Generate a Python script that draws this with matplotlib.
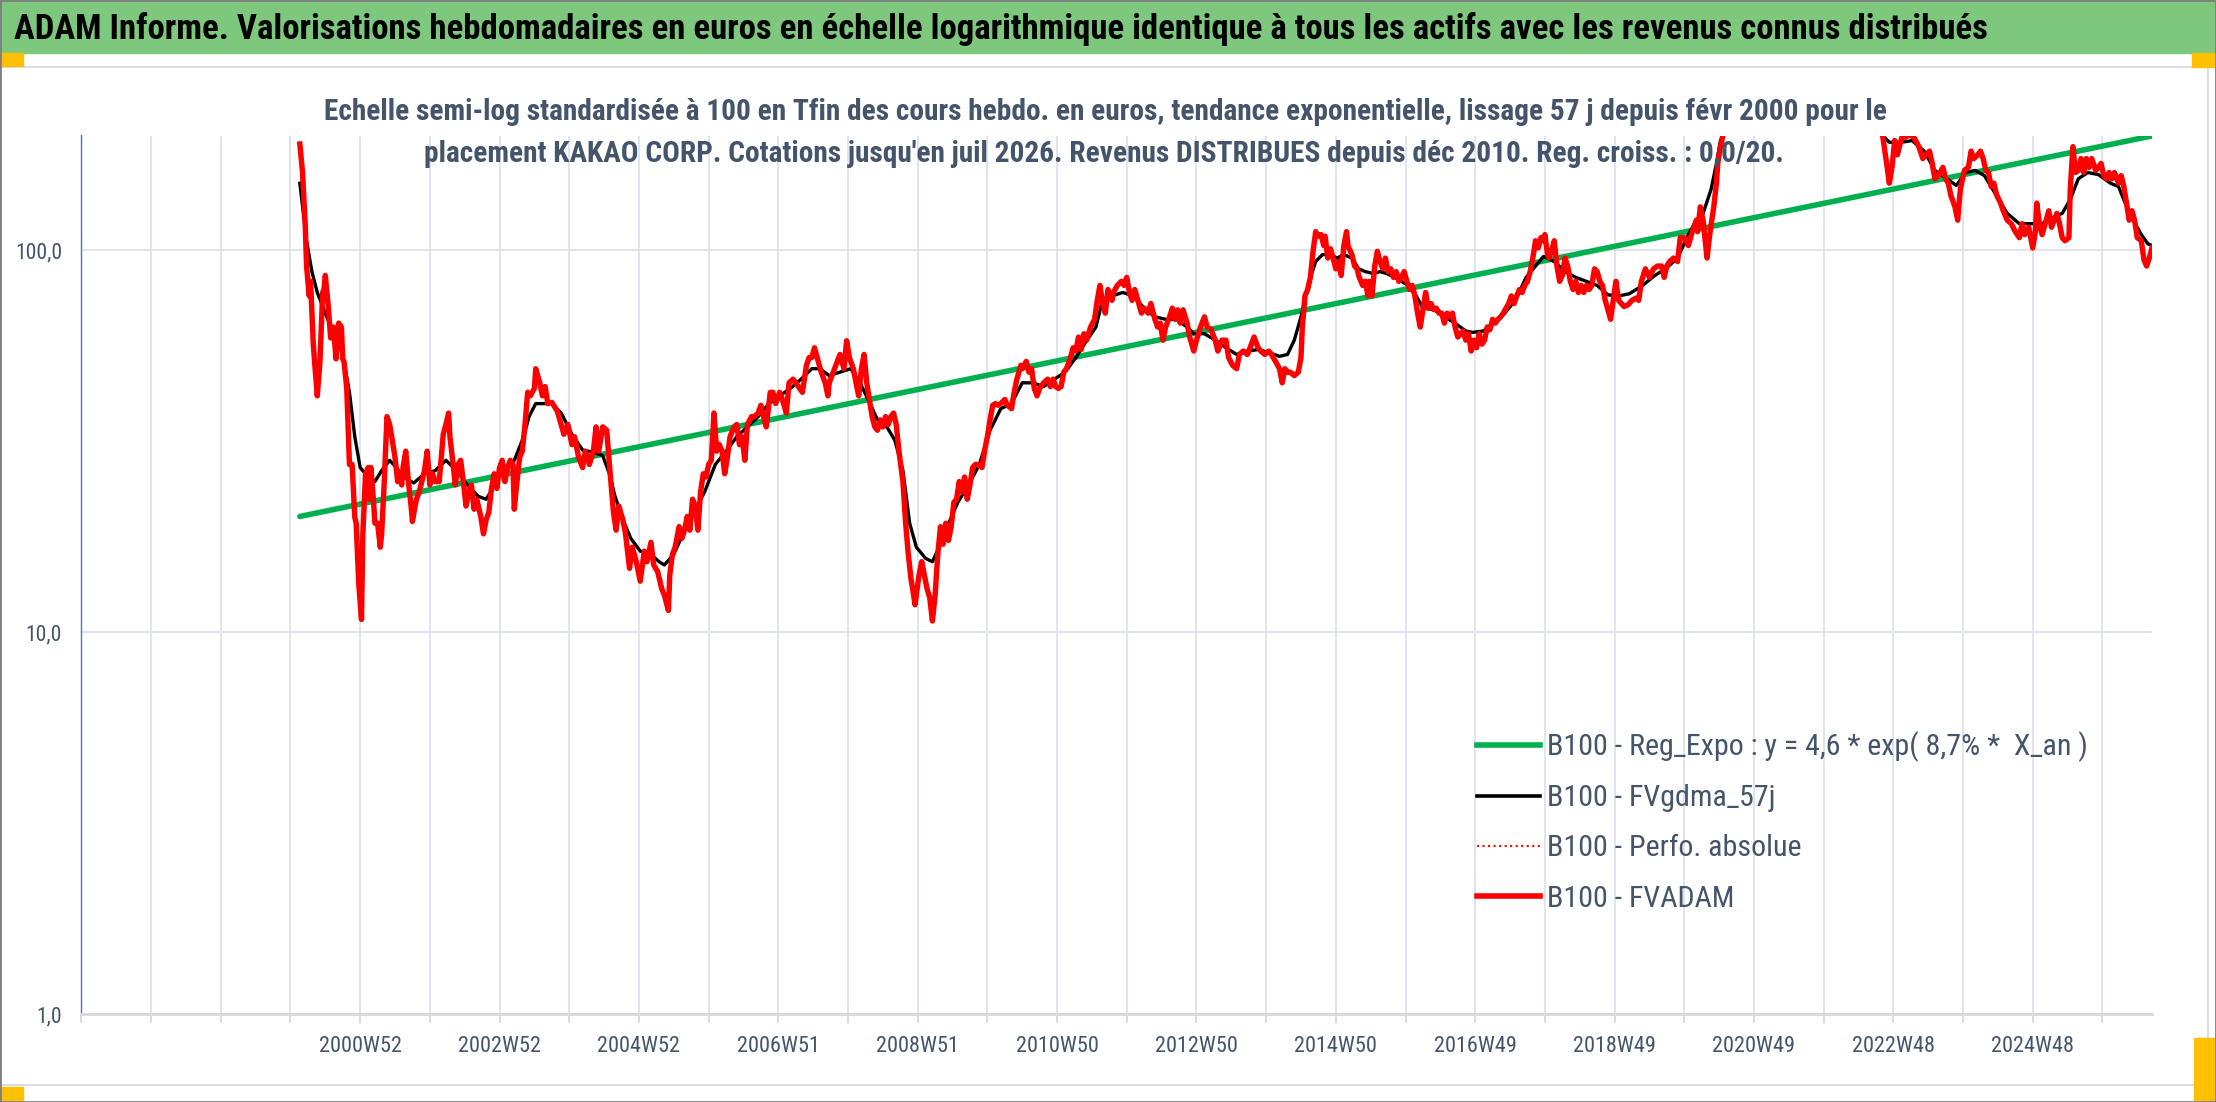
import numpy as np
import matplotlib
matplotlib.use('Agg')
import matplotlib.pyplot as plt
from matplotlib import font_manager
from matplotlib.lines import Line2D
from matplotlib.patches import Rectangle

# police etroite type Calibri si dispo
noms = {f.name for f in font_manager.fontManager.ttflist}
police = next((p for p in ['Liberation Sans Narrow', 'Roboto Condensed',
                           'Open Sans Condensed', 'Lato'] if p in noms), 'DejaVu Sans')
plt.rcParams['font.family'] = [police, 'DejaVu Sans']

titre = ("ADAM Informe. Valorisations hebdomadaires en euros en échelle logarithmique "
         "identique à tous les actifs avec les revenus connus distribués")
sous_titre_1 = ("Echelle semi-log standardisée à 100 en Tfin des cours hebdo. en euros, "
                "tendance exponentielle, lissage 57 j depuis févr 2000 pour le")
sous_titre_2 = ("placement KAKAO CORP. Cotations jusqu'en juil 2026. Revenus DISTRIBUES "
                "depuis déc 2010. Reg. croiss. : 0,0/20.")

etiquettes_x = ['2000W52', '2002W52', '2004W52', '2006W51', '2008W51', '2010W50', '2012W50',
                '2014W50', '2016W49', '2018W49', '2020W49', '2022W48', '2024W48']
etiquettes_y = ['1,0', '10,0', '100,0']
valeurs_y = [1, 10, 100]

noms_series = ['B100 - Reg_Expo : y = 4,6 * exp( 8,7% *  X_an )', 'B100 - FVgdma_57j',
               'B100 - Perfo. absolue', 'B100 - FVADAM']

# index de semaine (0 = debut de l'axe) et valeurs base 100
sem_fvadam = [163, 165, 167, 168, 170, 171, 173, 174, 176, 178, 180, 181,
              182, 184, 186, 188, 190, 192, 194, 195, 196, 198, 200, 202,
              204, 205, 207, 209, 210, 212, 214, 215, 216, 218, 219, 221,
              223, 224, 226, 228, 230, 232, 234, 236, 237, 239, 240, 242,
              244, 246, 247, 249, 250, 252, 254, 256, 258, 260, 262, 264,
              267, 270, 272, 274, 275, 277, 279, 281, 283, 285, 287, 289,
              291, 293, 295, 298, 300, 302, 304, 306, 308, 310, 312, 314,
              316, 318, 320, 322, 323, 325, 327, 329, 331, 333, 335, 338,
              339, 342, 344, 346, 348, 351, 355, 358, 360, 363, 366, 368,
              371, 374, 376, 379, 382, 384, 386, 389, 392, 394, 397, 399,
              401, 404, 406, 409, 411, 414, 417, 420, 422, 425, 427, 430,
              433, 435, 438, 439, 441, 443, 446, 448, 450, 452, 454, 456,
              458, 460, 462, 464, 466, 468, 470, 472, 474, 476, 478, 480,
              482, 484, 487, 489, 491, 493, 495, 497, 500, 502, 505, 507,
              509, 511, 514, 516, 518, 521, 523, 526, 528, 531, 533, 535,
              538, 541, 543, 545, 547, 549, 552, 555, 557, 558, 561, 564,
              566, 569, 571, 573, 576, 578, 580, 582, 584, 586, 588, 590,
              592, 594, 596, 598, 600, 602, 604, 606, 608, 610, 613, 615,
              617, 619, 621, 622, 625, 627, 629, 631, 633, 635, 637, 639,
              641, 643, 645, 647, 649, 651, 653, 655, 657, 659, 661, 663,
              665, 667, 669, 672, 674, 676, 678, 680, 682, 684, 686, 689,
              691, 694, 696, 698, 701, 702, 705, 707, 709, 711, 713, 715,
              718, 721, 723, 725, 727, 729, 731, 733, 735, 738, 740, 742,
              744, 746, 748, 750, 753, 756, 758, 760, 762, 764, 766, 769,
              770, 773, 776, 778, 780, 782, 784, 786, 789, 791, 793, 796,
              798, 801, 803, 805, 807, 809, 812, 814, 816, 818, 820, 822,
              825, 827, 830, 832, 835, 838, 840, 843, 846, 848, 851, 854,
              856, 859, 862, 864, 867, 870, 872, 875, 878, 880, 883, 886,
              888, 891, 894, 896, 898, 900, 902, 905, 908, 910, 911, 913,
              915, 917, 919, 921, 923, 925, 927, 928, 930, 932, 934, 936,
              938, 940, 942, 944, 945, 948, 950, 952, 953, 956, 958, 960,
              961, 963, 965, 967, 969, 971, 973, 975, 977, 979, 981, 983,
              985, 987, 989, 991, 993, 995, 997, 999, 1001, 1003, 1005, 1007,
              1009, 1011, 1013, 1015, 1017, 1019, 1021, 1023, 1025, 1027, 1029, 1031,
              1033, 1035, 1037, 1039, 1041, 1043, 1045, 1047, 1049, 1051, 1053, 1055,
              1057, 1059, 1061, 1063, 1065, 1067, 1069, 1071, 1073, 1075, 1077, 1079,
              1081, 1083, 1085, 1087, 1089, 1091, 1092, 1094, 1095, 1097, 1099, 1101,
              1103, 1105, 1107, 1109, 1111, 1113, 1115, 1117, 1119, 1121, 1123, 1125,
              1127, 1129, 1131, 1133, 1135, 1137, 1139, 1141, 1143, 1145, 1147, 1149,
              1151, 1154, 1157, 1160, 1162, 1164, 1167, 1170, 1173, 1176, 1179, 1181,
              1183, 1185, 1188, 1191, 1193, 1196, 1199, 1202, 1205, 1206, 1208, 1210,
              1213, 1215, 1218, 1220, 1221, 1223, 1225, 1230, 1240, 1255, 1270, 1290,
              1310, 1325, 1337, 1342, 1344, 1347, 1349, 1351, 1353, 1355, 1357, 1359,
              1361, 1363, 1365, 1368, 1371, 1374, 1376, 1379, 1381, 1383, 1386, 1389,
              1391, 1393, 1395, 1398, 1400, 1402, 1405, 1408, 1410, 1412, 1415, 1417,
              1419, 1421, 1423, 1425, 1427, 1429, 1432, 1434, 1437, 1440, 1443, 1446,
              1448, 1450, 1453, 1456, 1458, 1459, 1461, 1463, 1466, 1468, 1470, 1472,
              1474, 1476, 1478, 1480, 1483, 1484, 1486, 1488, 1490, 1492, 1494, 1496,
              1498, 1500, 1503, 1505, 1507, 1509, 1511, 1513, 1515, 1517, 1520, 1522,
              1524, 1526, 1528, 1530, 1532, 1534, 1537, 1539, 1541, 1543, 1545]
fvadam = [190, 160, 117, 91, 76, 83, 57, 51, 41.6, 51, 77.6, 79,
          86, 72.6, 59, 63, 52, 64.5, 63, 52, 51, 43.5, 27.5, 27.5,
          20, 19.3, 13.3, 10.8, 18, 26, 27, 22.3, 27, 22, 19.3, 19.3,
          16.7, 18, 24.8, 36.7, 35, 31.8, 28.7, 24.8, 26, 24.3, 27, 29.8,
          24.8, 21.4, 19.5, 21.4, 22.3, 23.3, 24.8, 26.5, 29.8, 24.3, 26, 24.8,
          24.8, 33, 35, 37.5, 32.5, 28.2, 24.3, 27.5, 28.2, 24.8, 21.4, 23.3,
          24.3, 21, 22.3, 20.1, 18.1, 19.7, 20.6, 23.8, 26, 23.8, 27, 28.2,
          24.8, 27, 28.2, 27.5, 21, 24.8, 28.7, 29.8, 35, 42.5, 41.6, 43.5,
          49, 45, 41.6, 44, 39.7, 40, 38, 35, 33, 35, 31, 32.5,
          28.7, 27, 29.8, 27.5, 29.8, 34.5, 29.8, 34.5, 33.8, 27.5, 20.6, 18.5,
          21.4, 19.7, 18.1, 14.7, 16.7, 15.3, 13.6, 16.3, 15.3, 17.2, 15, 14.4,
          13, 12.5, 11.4, 14.1, 16, 16.7, 18.9, 17.6, 18.5, 20.1, 18.5, 22.3,
          21.4, 18.5, 23.3, 26, 25.5, 27.5, 28.2, 37.5, 29.8, 31, 29.8, 26,
          28.7, 32.5, 34.5, 35, 31, 32.5, 28.2, 35, 36.7, 36.7, 37.5, 39.3,
          36.7, 34.5, 42.5, 42.5, 39.7, 42.5, 40.7, 37.5, 45, 46, 45, 44,
          42.5, 50, 52.4, 52.4, 55.6, 52.4, 48, 45, 41.6, 45, 48, 51.2,
          53.4, 49, 58, 52.4, 49, 45, 41.6, 49, 53.4, 45, 40.7, 36.7,
          34.5, 33.8, 36, 34.5, 36.7, 35, 36.7, 37.5, 35, 29.8, 24.8, 19.3,
          16, 13.8, 12.5, 11.8, 14.1, 15.3, 14.1, 13, 12.3, 10.7, 12.5, 16,
          18.9, 17, 19.3, 17.4, 18.9, 21.9, 22.3, 24.8, 23.3, 25.5, 22.3, 24.3,
          27, 27.5, 27.5, 27, 30, 32.5, 36, 39.3, 39.7, 39.3, 39.7, 40.7,
          39.3, 38.5, 42.5, 46, 50, 49, 51.2, 48, 49, 43.5, 41.6, 43.5,
          45, 46, 44, 46, 44, 43.5, 44, 48, 49, 52.4, 55.6, 54.5,
          59.3, 55, 60.5, 58.2, 63, 66, 74, 81, 72.6, 68.5, 79, 74,
          77.6, 81, 83, 81, 85, 77.6, 74, 79, 72.6, 68.5, 70.6, 68.5,
          72.6, 66, 63, 64.5, 58.2, 63, 67, 70.6, 66, 69.9, 64.5, 69.9,
          64.5, 59.3, 54.5, 58.2, 63, 67, 63, 62, 58.2, 54.5, 58.2, 58.2,
          52.4, 50, 49, 53.4, 54.5, 53.4, 55.6, 59.3, 55.6, 54.5, 53.4, 54.5,
          53.4, 51.2, 49, 45, 49, 48, 48, 47, 48, 52.4, 63, 76,
          79, 85, 99.5, 112, 109, 110, 103, 109, 95.5, 101, 95.5, 89.5,
          93.5, 86, 103, 112, 103, 97.5, 91, 89.5, 86, 81, 83, 76,
          83, 76, 91, 99.5, 93.5, 89.5, 95.5, 88, 89.5, 85, 88, 83,
          85, 88, 83, 79, 81, 76, 68.5, 63, 70, 77.6, 70.6, 72.6,
          70, 70.6, 68.5, 68.5, 64.5, 68.5, 67, 68.5, 63, 59.3, 60.5, 61.5,
          58.2, 60.5, 54.5, 58.2, 55.6, 60.5, 56.8, 58.2, 63, 62, 66, 64.5,
          66, 67, 68.5, 70.6, 72.6, 76, 72.6, 76, 79, 77.6, 81, 83,
          88, 95.5, 106, 101.5, 108, 106, 110, 97.5, 95.5, 99.5, 106, 91,
          83, 86, 95.5, 91, 83, 79, 83, 77.6, 81, 77.6, 81, 79,
          81, 89.5, 88, 83, 81, 74, 70, 66, 74, 83, 74, 72.6,
          71.3, 72, 74, 75, 74, 83, 89.5, 85, 89.5, 91, 91, 85,
          91, 93.5, 95.5, 93.5, 108, 108, 103, 112, 120, 112, 130, 120,
          95.5, 110, 130, 150, 169, 187, 201, 240, 320, 420, 500, 450,
          360, 280, 230, 210, 200, 169, 150, 165, 194, 178, 190, 201,
          198, 200, 201, 196, 187, 174, 178, 182, 169, 154, 158, 165,
          154, 150, 139, 130, 120, 144.5, 162, 165, 182, 174, 178, 182,
          174, 162, 160, 147, 150, 140, 133, 127, 120, 117.5, 112, 108,
          117.5, 110, 115, 101.5, 112, 133, 117.5, 110, 120, 127, 115, 120,
          125, 117.5, 108, 106, 108, 144.5, 187, 160, 162, 174, 160, 174,
          165, 174, 162, 165, 169, 157, 154, 160, 154, 160, 150, 157,
          147, 133, 120, 127, 120, 108, 106, 94.5, 91, 95.5, 101.5]

sem_gdma = [163, 168, 172, 176, 182, 187, 192, 196, 200, 204, 208, 212,
            219, 224, 230, 235, 240, 248, 256, 264, 272, 280, 288, 296,
            302, 307, 315, 323, 330, 334, 339, 347, 350, 358, 366, 374,
            382, 389, 394, 398, 404, 410, 417, 425, 431, 435, 442, 449,
            457, 465, 473, 481, 489, 497, 505, 513, 521, 529, 537, 545,
            551, 558, 566, 574, 581, 587, 594, 601, 607, 613, 618, 623,
            630, 635, 641, 646, 654, 662, 670, 678, 686, 694, 702, 710,
            718, 726, 734, 742, 750, 757, 761, 769, 777, 785, 793, 801,
            809, 817, 825, 830, 838, 846, 854, 862, 870, 878, 886, 894,
            900, 905, 910, 916, 921, 926, 932, 937, 942, 948, 953, 958,
            964, 969, 974, 980, 985, 990, 996, 1001, 1009, 1017, 1025, 1033,
            1038, 1046, 1054, 1062, 1070, 1078, 1085, 1091, 1099, 1107, 1115, 1123,
            1131, 1139, 1147, 1155, 1165, 1174, 1182, 1191, 1199, 1205, 1210, 1216,
            1220, 1223, 1225, 1235, 1255, 1275, 1295, 1315, 1330, 1340, 1344, 1349,
            1358, 1366, 1375, 1383, 1392, 1399, 1406, 1413, 1420, 1429, 1437, 1446,
            1454, 1463, 1471, 1478, 1484, 1490, 1497, 1505, 1514, 1520, 1525, 1531,
            1537, 1542, 1545]
fvgdma = [150, 106, 88, 77.6, 68.5, 62, 58, 51, 42.5, 32.5, 27, 26,
          24.8, 26.5, 28.2, 27, 25.5, 24.6, 26, 26.5, 28.2, 26.5, 24.3, 22.7,
          22.3, 23.8, 26.5, 28.2, 32.5, 36.7, 39.7, 39.7, 40, 37.5, 33, 30,
          29.6, 29, 26, 22.8, 19.7, 17.6, 16.3, 16, 15.3, 15, 16, 18.1,
          20.6, 23.3, 27.5, 29.8, 32.5, 34.5, 36.7, 39.7, 41.6, 43.5, 46, 49,
          49, 47, 48, 49, 45, 40.7, 36, 34.5, 31.8, 26.5, 19.3, 16.7,
          15.6, 15.3, 17, 18.9, 21.9, 24.3, 27.5, 33.8, 38.5, 39.7, 45, 45,
          44, 46, 48, 52.4, 58, 63, 72, 76, 77.6, 76, 70.6, 67,
          66, 66, 63, 60.5, 60.5, 58.2, 55.6, 53.4, 54.5, 55, 54, 52.8,
          53.4, 58.2, 67, 83, 93.5, 97.5, 97.5, 95.5, 97.5, 95.5, 89.5, 88,
          87, 88, 87, 85, 83, 81, 76, 70.6, 70, 67, 64.5, 61.5,
          61, 61.5, 64.5, 68.5, 74, 85, 91, 96.5, 93.5, 88, 85, 83,
          81, 76.5, 76, 77, 81, 86, 89.5, 95.5, 110, 120, 125, 144.5,
          169, 194, 201, 250, 350, 420, 400, 320, 250, 210, 200, 192,
          192, 194, 182, 162, 154, 148, 160, 162, 157, 139, 125, 117.5,
          117.5, 117.5, 122, 125, 136, 154, 160, 158, 150, 147, 133, 120,
          110, 104, 103]

# regression exponentielle : valeurs de debut et de fin
sem_reg = [163, 1545]
reg_expo = [20.1, 199.5]

W, H = 2216, 1102
fig = plt.figure(figsize=(W / 100, H / 100), dpi=100)
rend = fig.canvas.get_renderer()


def fx(px):
    return px / W


def fy(py):
    return 1 - py / H


def ajuste(t, largeur):
    w = t.get_window_extent(rend).width
    t.set_fontsize(t.get_fontsize() * largeur / w)


# bandeau vert + cadres facon Excel
fig.patches.append(Rectangle((0, fy(53)), 1, 53 / H, transform=fig.transFigure,
                             color='#7EC87E', zorder=0))
fig.patches.append(Rectangle((fx(1), fy(1085)), fx(2207), (1085 - 67) / H, transform=fig.transFigure,
                             fill=False, ec='#DADDE2', lw=1.5, zorder=0))
for (x0, y0, w, h) in [(0, 53, 23, 13), (2192, 53, 22, 14), (0, 1087, 23, 13), (2194, 1038, 22, 62)]:
    fig.patches.append(Rectangle((fx(x0), fy(y0 + h)), w / W, h / H, transform=fig.transFigure,
                                 color='#FFC000', zorder=1))
fig.patches.append(Rectangle((0, 0), 1, 1, transform=fig.transFigure, fill=False,
                             ec='#7F7F7F', lw=2, zorder=5))

t = fig.text(fx(14), fy(39), titre, fontsize=22, weight='bold', color='black',
             ha='left', va='baseline')
ajuste(t, 1974)
s1 = fig.text(fx(1105), fy(120), sous_titre_1, fontsize=18, weight='bold', color='#44546A',
              ha='center', va='baseline')
ajuste(s1, 1562)
s2 = fig.text(fx(1104), fy(162), sous_titre_2, fontsize=s1.get_fontsize(), weight='bold',
              color='#44546A', ha='center', va='baseline')

ax = fig.add_axes([fx(81.4), fy(1014), (2152 - 81.4) / W, (1014 - 135.5) / H])
ax.set_yscale('log')
ax.set_ylim(1, 200)
ax.set_xlim(0, 1545)

ax.plot(sem_reg, reg_expo, color='#00B050', lw=4.0, solid_capstyle='round', zorder=2)
ax.plot(sem_gdma, fvgdma, color='black', lw=2.4, zorder=3)
ax.plot(sem_fvadam, fvadam, color='#FF0000', lw=3.9, solid_joinstyle='round', zorder=4)

# axes et grille
ax.set_yticks(valeurs_y)
ax.set_yticklabels(etiquettes_y)
ax.yaxis.set_minor_locator(matplotlib.ticker.NullLocator())
pos_x = np.arange(0, 1546, 52)
ax.set_xticks(pos_x)
lab = [''] * len(pos_x)
for i, e in enumerate(etiquettes_x):
    lab[4 + 2 * i] = e
ax.set_xticklabels(lab)
ax.grid(True, color='#DDE2EA', lw=1.3, zorder=0)
ax.set_axisbelow(True)
ax.tick_params(axis='y', length=0, pad=14, labelsize=15.5, labelcolor='#44546A')
ax.tick_params(axis='x', length=6.5, width=1.3, color='#D9D9D9', pad=9, labelsize=16,
               labelcolor='#44546A')
for c in ['top', 'right']:
    ax.spines[c].set_visible(False)
ax.spines['left'].set_color('#4472C4')
ax.spines['left'].set_linewidth(1.0)
ax.spines['bottom'].set_color('#D9D9D9')
ax.spines['bottom'].set_linewidth(2.0)

# legende
tmp = fig.text(0, 0, noms_series[0], fontsize=20)
ajuste(tmp, 540)
fs = tmp.get_fontsize()
tmp.set_text('lp')
h_ligne = tmp.get_window_extent(rend).height
tmp.remove()
fs_px = fs * 100 / 72
poignees = [Line2D([], [], color='#00B050', lw=4.0),
            Line2D([], [], color='black', lw=2.6),
            Line2D([], [], color='#FF0000', lw=1.5, ls=':'),
            Line2D([], [], color='#FF0000', lw=4.0)]
leg = ax.legend(poignees, noms_series, loc='center left', bbox_to_anchor=(fx(1477), fy(822)),
                bbox_transform=fig.transFigure, frameon=False, fontsize=fs,
                handlelength=63 / fs_px, handletextpad=7 / fs_px,
                labelspacing=(50.3 - h_ligne) / fs_px, borderpad=0, borderaxespad=0)
for tx in leg.get_texts():
    tx.set_color('#44546A')

fig.savefig('out.png', dpi=100)
